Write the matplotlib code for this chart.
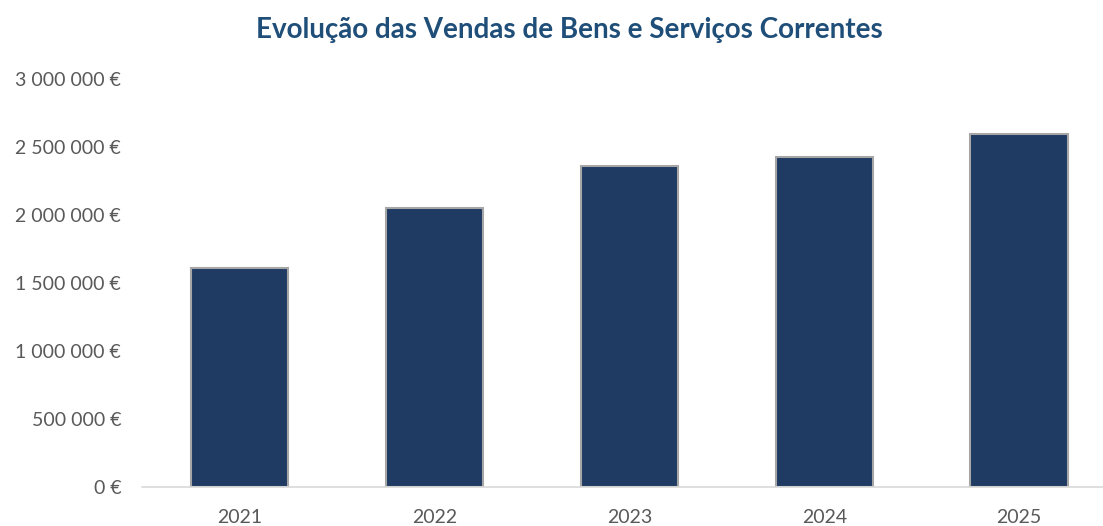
import matplotlib
matplotlib.use("Agg")
import matplotlib.pyplot as plt
from matplotlib.ticker import FuncFormatter

# -------------------------- data --------------------------------------------
years = ["2021", "2022", "2023", "2024", "2025"]
vendas = [1610000, 2050000, 2360000, 2430000, 2595000]
y_ticks = [0, 500000, 1000000, 1500000, 2000000, 2500000, 3000000]

BAR_COLOR = "#1f3b64"
TEXT_COLOR = "#595959"
TITLE_COLOR = "#1f4e79"

plt.rcParams['font.family'] = ['Lato', 'DejaVu Sans']


def euro(v, pos=None):
    return f"{int(v):,}".replace(",", " ") + " €"


# -------------------------- plot --------------------------------------------
fig = plt.figure(figsize=(11.03, 5.26), dpi=100)
ax = fig.add_axes([142 / 1103, 1 - 487 / 526, 1 - 142 / 1103, (487 - 79) / 526])

x = range(len(years))
ax.bar(x, vendas, width=0.5, color=BAR_COLOR, edgecolor="#a6a6a6", linewidth=1.5, zorder=2)

ax.set_xlim(-0.5, 4.43)
ax.set_ylim(0, 3000000)
ax.set_xticks(list(x))
ax.set_xticklabels(years)
ax.set_yticks(y_ticks)
ax.yaxis.set_major_formatter(FuncFormatter(euro))

for s in ["top", "right", "left"]:
    ax.spines[s].set_visible(False)
ax.spines["bottom"].set_color("#d9d9d9")
ax.spines["bottom"].set_linewidth(1.2)
ax.tick_params(axis="both", length=0, labelsize=14, colors=TEXT_COLOR)
ax.tick_params(axis="x", pad=16)
ax.tick_params(axis="y", pad=15)

fig.text(0.516, 0.943, "Evolução das Vendas de Bens e Serviços Correntes",
         ha="center", va="center", fontsize=20, fontweight="bold", color=TITLE_COLOR)

fig.savefig("out.png", dpi=100)
